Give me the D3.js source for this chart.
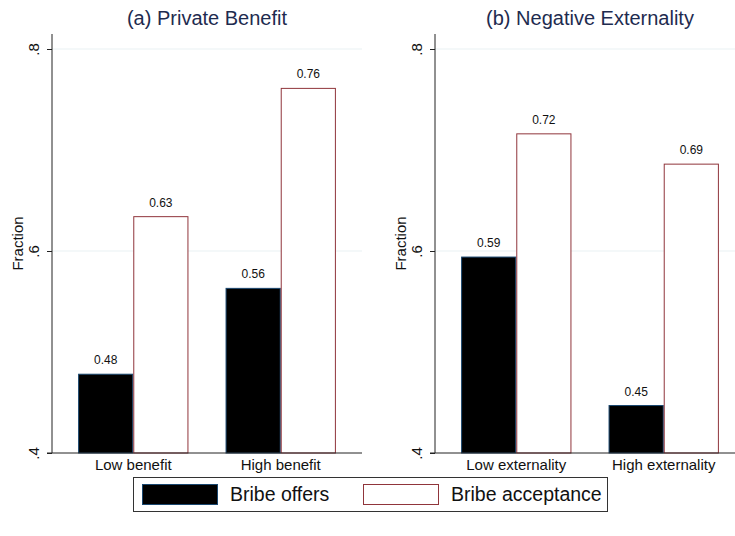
<!DOCTYPE html>
<html>
<head>
<meta charset="utf-8">
<script src="https://cdn.jsdelivr.net/npm/d3@7"></script>
<style>
  html, body { margin: 0; padding: 0; background: #fff; }
  svg { display: block; }
  text { font-family: "Liberation Sans", Arial, Helvetica, sans-serif; }
</style>
</head>
<body>
<svg id="chart" width="735" height="536"></svg>
<script>
// Panel titles and category labels
const panelTitles = ["(a) Private Benefit", "(b) Negative Externality"];
const benefitCategories = ["Low benefit", "High benefit"];
const externalityCategories = ["Low externality", "High externality"];

// Series
const seriesNames = ["Bribe offers", "Bribe acceptance"];
const benefitOffers = [0.478, 0.563];
const benefitAcceptance = [0.634, 0.761];
const externalityOffers = [0.594, 0.447];
const externalityAcceptance = [0.716, 0.686];

// Y axis
const yTicks = [0.4, 0.6, 0.8];
const yTickLabels = [".4", ".6", ".8"];
const yAxisTitle = "Fraction";

const panels = [
  { title: panelTitles[0], cats: benefitCategories, values: [benefitOffers, benefitAcceptance] },
  { title: panelTitles[1], cats: externalityCategories, values: [externalityOffers, externalityAcceptance] }
];

const svg = d3.select("#chart");

const plotTop = 34, plotBottom = 453, plotWidth = 310;
const panelLefts = [52, 435];

const y = d3.scaleLinear().domain([0.4, 0.8]).range([plotBottom, 49]);

const fills = ["#000000", "#ffffff"];
const strokes = ["#1a476f", "#90353b"];

panels.forEach((p, i) => {
  const left = panelLefts[i];
  const g = svg.append("g").attr("transform", `translate(${left},0)`);

  const x = d3.scaleBand().domain(p.cats).range([0, plotWidth])
    .paddingInner(0.2517).paddingOuter(0.177);
  const xs = d3.scaleBand().domain(seriesNames).range([0, x.bandwidth()]);

  // Gridlines
  g.append("g").selectAll("line")
    .data(yTicks.filter(t => t > 0.4))
    .join("line")
    .attr("x1", 0).attr("x2", plotWidth)
    .attr("y1", d => y(d)).attr("y2", d => y(d))
    .attr("stroke", "#eaf2f3").attr("stroke-width", 1.2);

  // Bars
  const rows = [];
  p.cats.forEach((c, ci) => {
    seriesNames.forEach((s, si) => rows.push({ cat: c, series: s, si, v: p.values[si][ci] }));
  });

  g.append("g").selectAll("rect")
    .data(rows)
    .join("rect")
    .attr("x", d => x(d.cat) + xs(d.series) + 0.5)
    .attr("y", d => y(d.v))
    .attr("width", xs.bandwidth() - 1)
    .attr("height", d => y(0.4) - y(d.v))
    .attr("fill", d => fills[d.si])
    .attr("stroke", d => strokes[d.si])
    .attr("stroke-width", 1);

  // Value labels
  g.append("g").selectAll("text")
    .data(rows)
    .join("text")
    .attr("x", d => x(d.cat) + xs(d.series) + xs.bandwidth() / 2)
    .attr("y", d => y(d.v) - 10)
    .attr("text-anchor", "middle")
    .attr("font-size", 12)
    .attr("fill", "#111")
    .text(d => d.v.toFixed(2));

  // Y axis
  const yAxis = d3.axisLeft(y).tickValues(yTicks).tickSize(5)
    .tickFormat((d, k) => yTickLabels[k]);
  const ya = g.append("g").call(yAxis);
  ya.select(".domain").remove();
  ya.selectAll(".tick line").attr("stroke", "#222");
  ya.selectAll(".tick text")
    .attr("font-size", 15)
    .attr("fill", "#111")
    .attr("x", null).attr("dy", null)
    .attr("text-anchor", "middle")
    .attr("transform", "translate(-13,0) rotate(-90)");
  g.append("line")
    .attr("x1", 0).attr("x2", 0)
    .attr("y1", plotTop).attr("y2", plotBottom)
    .attr("stroke", "#222").attr("stroke-width", 1);

  // X axis
  const xAxis = d3.axisBottom(x).tickSize(0).tickPadding(6);
  const xa = g.append("g").attr("transform", `translate(0,${plotBottom})`).call(xAxis);
  xa.select(".domain").remove();
  xa.selectAll(".tick text").attr("font-size", 15).attr("fill", "#111")
    .attr("font-family", "Liberation Sans, Arial, sans-serif");
  g.append("line")
    .attr("x1", -5).attr("x2", plotWidth)
    .attr("y1", plotBottom).attr("y2", plotBottom)
    .attr("stroke", "#222").attr("stroke-width", 1);

  // Y axis title
  g.append("text")
    .attr("transform", `translate(-29,${(plotTop + plotBottom) / 2}) rotate(-90)`)
    .attr("text-anchor", "middle")
    .attr("font-size", 15)
    .attr("fill", "#111")
    .text(yAxisTitle);

  // Panel title
  g.append("text")
    .attr("x", plotWidth / 2)
    .attr("y", 25)
    .attr("text-anchor", "middle")
    .attr("font-size", 20)
    .attr("fill", "#1e2b4f")
    .text(p.title);
});

// Legend
const legend = svg.append("g");
const boxX = 133, boxY = 477, boxW = 474, boxH = 34;
legend.append("rect")
  .attr("x", boxX + 0.5).attr("y", boxY + 0.5)
  .attr("width", boxW).attr("height", boxH)
  .attr("fill", "#fff").attr("stroke", "#333").attr("stroke-width", 1);

const swatchX = [142, 363], textX = [230, 451];
seriesNames.forEach((s, si) => {
  legend.append("rect")
    .attr("x", swatchX[si] + 0.5).attr("y", boxY + 7.5)
    .attr("width", 75).attr("height", 20)
    .attr("fill", fills[si]).attr("stroke", strokes[si]).attr("stroke-width", 1);
  legend.append("text")
    .attr("x", textX[si]).attr("y", boxY + 24)
    .attr("font-size", 19.5)
    .attr("fill", "#111")
    .text(s);
});
</script>
</body>
</html>
